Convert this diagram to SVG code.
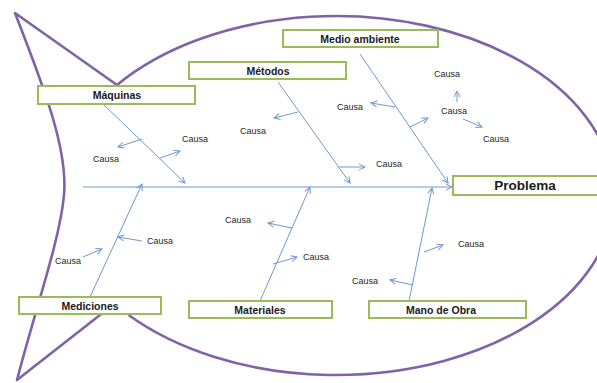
<svg xmlns="http://www.w3.org/2000/svg" width="597" height="383" viewBox="0 0 597 383">
<style>
.fish{fill:none;stroke:#7f62a8;stroke-width:2.6;stroke-linejoin:round}
.ln{fill:none;stroke:#7097cf;stroke-width:1}
.box{fill:#ffffff;stroke:#9bbb59;stroke-width:2}
.lbl{font-family:"Liberation Sans",Arial,sans-serif;font-weight:bold;font-size:10.5px;fill:#1a1a1a;text-anchor:middle}
.big{font-size:13.5px}
.c{font-family:"Liberation Sans",Arial,sans-serif;font-size:9px;fill:#262626;text-anchor:middle}
</style>
<defs>
<marker id="ah" viewBox="0 0 8 8" refX="7" refY="4" markerWidth="8" markerHeight="8" orient="auto" markerUnits="userSpaceOnUse">
<path d="M1,1 L7,4 L1,7" fill="none" stroke="#7097cf" stroke-width="1"/>
</marker>
</defs>
<g id="outline">
<path class="fish" d="M117,85 A278,179.5 0 1 1 128.6,315"/>
<path class="fish" d="M117,85 L15,13 C45,90 68,150 64,195 S35,310 17,380 L114,304"/>
</g>
<g id="connectors">
<line class="ln" x1="83" y1="187" x2="452" y2="187" marker-end="url(#ah)"/>
<line class="ln" x1="103" y1="104" x2="185" y2="183" marker-end="url(#ah)"/>
<line class="ln" x1="278" y1="82" x2="350" y2="183" marker-end="url(#ah)"/>
<line class="ln" x1="360" y1="54" x2="448" y2="183" marker-end="url(#ah)"/>
<line class="ln" x1="90" y1="297" x2="142" y2="184" marker-end="url(#ah)"/>
<line class="ln" x1="260" y1="301" x2="310" y2="187" marker-end="url(#ah)"/>
<line class="ln" x1="409" y1="301" x2="432" y2="188" marker-end="url(#ah)"/>
<line class="ln" x1="142" y1="139" x2="118" y2="147" marker-end="url(#ah)"/>
<line class="ln" x1="160" y1="158" x2="180" y2="151" marker-end="url(#ah)"/>
<line class="ln" x1="298" y1="112" x2="274" y2="118" marker-end="url(#ah)"/>
<line class="ln" x1="339" y1="167" x2="365" y2="167" marker-end="url(#ah)"/>
<line class="ln" x1="395" y1="107" x2="371" y2="103" marker-end="url(#ah)"/>
<line class="ln" x1="410" y1="127" x2="428" y2="118" marker-end="url(#ah)"/>
<line class="ln" x1="457" y1="102" x2="457" y2="91" marker-end="url(#ah)"/>
<line class="ln" x1="463" y1="119" x2="482" y2="127" marker-end="url(#ah)"/>
<line class="ln" x1="83" y1="257" x2="102" y2="249" marker-end="url(#ah)"/>
<line class="ln" x1="142" y1="241" x2="118" y2="237" marker-end="url(#ah)"/>
<line class="ln" x1="292" y1="228" x2="268" y2="223" marker-end="url(#ah)"/>
<line class="ln" x1="273" y1="264" x2="297" y2="257" marker-end="url(#ah)"/>
<line class="ln" x1="424" y1="252" x2="443" y2="245" marker-end="url(#ah)"/>
<line class="ln" x1="413" y1="285" x2="390" y2="280" marker-end="url(#ah)"/>
</g>
<g id="maquinas"><rect class="box" x="38" y="86" width="157" height="18"/><text class="lbl" x="117" y="99">Máquinas</text></g>
<g id="metodos"><rect class="box" x="189" y="62" width="157" height="17"/><text class="lbl" x="268" y="74.5">Métodos</text></g>
<g id="medio-ambiente"><rect class="box" x="283" y="30" width="155" height="17"/><text class="lbl" x="360" y="42.5">Medio ambiente</text></g>
<g id="problema"><rect class="box" x="453" y="176" width="146" height="19"/><text class="lbl big" x="525" y="190">Problema</text></g>
<g id="mediciones"><rect class="box" x="19" y="297" width="142" height="17"/><text class="lbl" x="90" y="309.5">Mediciones</text></g>
<g id="materiales"><rect class="box" x="189" y="301" width="143" height="17"/><text class="lbl" x="260" y="313.5">Materiales</text></g>
<g id="mano-de-obra"><rect class="box" x="369" y="301" width="157" height="17"/><text class="lbl" x="441" y="313.5">Mano de Obra</text></g>
<g id="causas">
<text class="c" x="106" y="162">Causa</text>
<text class="c" x="195" y="142">Causa</text>
<text class="c" x="253" y="134">Causa</text>
<text class="c" x="389" y="167">Causa</text>
<text class="c" x="350" y="110">Causa</text>
<text class="c" x="454" y="114">Causa</text>
<text class="c" x="447" y="77">Causa</text>
<text class="c" x="496" y="142">Causa</text>
<text class="c" x="68" y="264">Causa</text>
<text class="c" x="160" y="244">Causa</text>
<text class="c" x="238" y="223">Causa</text>
<text class="c" x="316" y="260">Causa</text>
<text class="c" x="471" y="247">Causa</text>
<text class="c" x="365" y="284">Causa</text>
</g>
</svg>
